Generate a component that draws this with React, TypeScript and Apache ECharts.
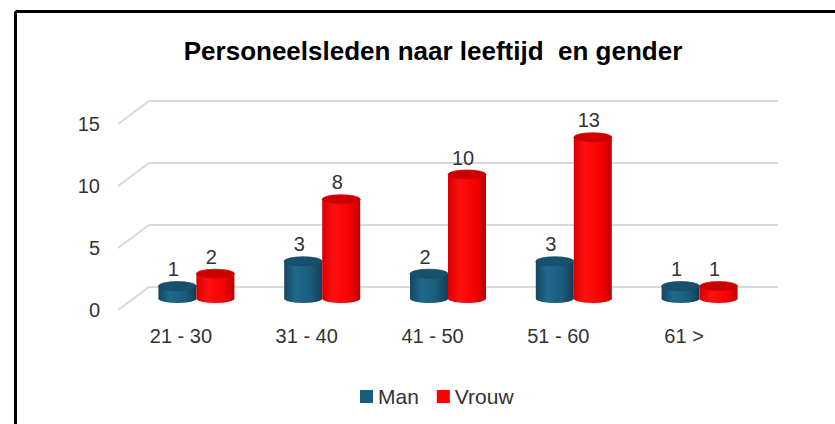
import React, { useEffect, useRef } from "react";
import * as echarts from "echarts";

const categories = ["21 - 30", "31 - 40", "41 - 50", "51 - 60", "61 >"];
const manValues = [1, 3, 2, 3, 1];
const vrouwValues = [2, 8, 10, 13, 1];
const yTicks = [0, 5, 10, 15];

const DX = 15.5;
const DY = -11.5;
const BACK_DX = 31;
const BACK_DY = -23;
const HALF_W = 19;
const RY = 4.5;

function cylinder(api: any, offset: number, colors: { body: any; top: any; edge: string }) {
  const idx = api.value(0);
  const v = api.value(1);
  const base = api.coord([idx, 0]);
  const top = api.coord([idx, v]);
  const cx = base[0] + DX + offset;
  const by = base[1] + DY;
  const ty = top[1] + DY;
  const l = cx - HALF_W;
  const r = cx + HALF_W;
  const bodyPath = `M${l},${ty} L${l},${by} A${HALF_W},${RY} 0 0 0 ${r},${by} L${r},${ty} Z`;
  const topPath = `M${l},${ty} A${HALF_W},${RY} 0 1 0 ${r},${ty} A${HALF_W},${RY} 0 1 0 ${l},${ty} Z`;
  return {
    type: "group",
    children: [
      { type: "path", shape: { pathData: bodyPath }, style: { fill: colors.body, stroke: null } },
      { type: "path", shape: { pathData: topPath }, style: { fill: colors.top, stroke: colors.edge, lineWidth: 0.8 } },
      {
        type: "text",
        style: {
          x: cx - 4,
          y: ty - 17,
          text: String(v),
          fill: "#333333",
          font: "20px 'Liberation Sans', Arial, sans-serif",
          align: "center",
          verticalAlign: "middle",
        },
      },
    ],
  };
}

export default function App() {
  const ref = useRef<HTMLDivElement>(null);
  useEffect(() => {
    document.body.style.margin = "0";
    const chart = echarts.init(ref.current!, null, { renderer: "svg" });
    const blueBody = new echarts.graphic.LinearGradient(0, 0, 1, 0, [
      { offset: 0, color: "#15455f" },
      { offset: 0.3, color: "#1f6a8e" },
      { offset: 0.7, color: "#1a5c7c" },
      { offset: 1, color: "#123d55" },
    ]);
    const blueTop = "#19506d";
    const redBody = new echarts.graphic.LinearGradient(0, 0, 1, 0, [
      { offset: 0, color: "#d80000" },
      { offset: 0.3, color: "#ff1010" },
      { offset: 0.75, color: "#f40000" },
      { offset: 1, color: "#b80000" },
    ]);
    const redTop = "#c80000";

    chart.setOption({
      animation: false,
      backgroundColor: "#ffffff",
      title: {
        text: "Personeelsleden naar leeftijd  en gender",
        left: 428,
        top: 33,
        textAlign: "center",
        textStyle: {
          fontFamily: "'Liberation Sans', Arial, sans-serif",
          fontWeight: "bold",
          fontSize: 26,
          color: "#000000",
        },
      },
      legend: {
        data: ["Man", "Vrouw"],
        left: 355,
        top: 381,
        icon: "rect",
        itemWidth: 13,
        itemHeight: 13,
        itemGap: 18,
        textStyle: {
          fontFamily: "'Liberation Sans', Arial, sans-serif",
          fontSize: 21,
          color: "#333333",
        },
      },
      graphic: [
        { type: "line", shape: { x1: 15.5, y1: 11.5, x2: 835, y2: 11.5 }, style: { stroke: "#000", lineWidth: 3 } },
        { type: "line", shape: { x1: 15.5, y1: 11.5, x2: 15.5, y2: 424 }, style: { stroke: "#000", lineWidth: 3 } },
      ],
      grid: { left: 118, right: 88, top: 124, bottom: 114 },
      xAxis: {
        type: "category",
        data: categories,
        axisLine: { show: false },
        axisTick: { show: false },
        splitLine: { show: false },
        axisLabel: {
          margin: 16,
          fontFamily: "'Liberation Sans', Arial, sans-serif",
          fontSize: 20,
          color: "#333333",
        },
      },
      yAxis: {
        type: "value",
        min: 0,
        max: 15,
        interval: 5,
        axisLine: { show: false },
        axisTick: { show: false },
        splitLine: { show: false },
        axisLabel: {
          margin: 18,
          fontFamily: "'Liberation Sans', Arial, sans-serif",
          fontSize: 20,
          color: "#333333",
        },
      },
      series: [
        {
          name: "grid3d",
          type: "custom",
          z: 1,
          silent: true,
          data: yTicks.map((t) => [0, t]),
          encode: { x: 0, y: 1 },
          renderItem: (params: any, api: any) => {
            const y = api.coord([0, api.value(1)])[1];
            const x0 = params.coordSys.x;
            const x1 = params.coordSys.x + params.coordSys.width;
            const st = { stroke: "#d9d9d9", lineWidth: 2 };
            return {
              type: "group",
              children: [
                { type: "line", shape: { x1: x0, y1: y, x2: x0 + BACK_DX, y2: y + BACK_DY }, style: st },
                { type: "line", shape: { x1: x0 + BACK_DX, y1: y + BACK_DY, x2: x1 + BACK_DX, y2: y + BACK_DY }, style: st },
              ],
            };
          },
        },
        {
          name: "Man",
          type: "custom",
          z: 3,
          itemStyle: { color: "#1b5d7e" },
          data: manValues.map((v, i) => [i, v]),
          encode: { x: 0, y: 1 },
          renderItem: (_p: any, api: any) => cylinder(api, -HALF_W, { body: blueBody, top: blueTop, edge: "#164b66" }),
        },
        {
          name: "Vrouw",
          type: "custom",
          z: 4,
          itemStyle: { color: "#ff0000" },
          data: vrouwValues.map((v, i) => [i, v]),
          encode: { x: 0, y: 1 },
          renderItem: (_p: any, api: any) => cylinder(api, HALF_W, { body: redBody, top: redTop, edge: "#e00000" }),
        },
      ],
    });
    return () => chart.dispose();
  }, []);
  return <div ref={ref} style={{ width: 835, height: 424 }} />;
}
